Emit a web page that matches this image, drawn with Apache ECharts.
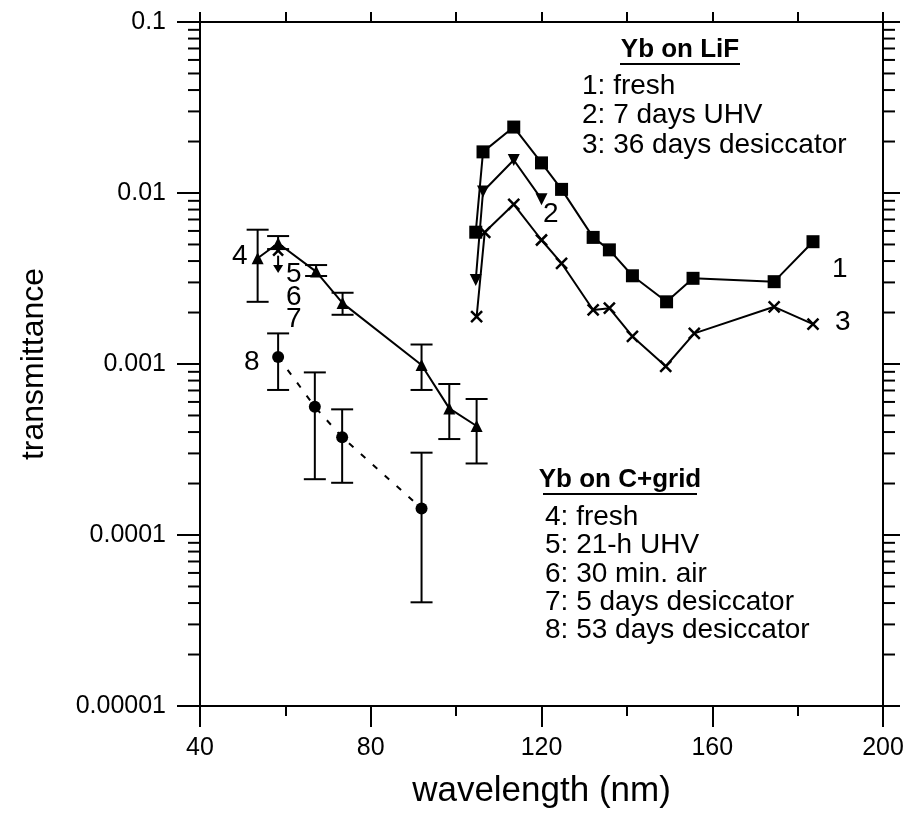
<!DOCTYPE html>
<html><head><meta charset="utf-8">
<script src="https://cdn.jsdelivr.net/npm/echarts@6/dist/echarts.min.js"></script>
<style>html,body{margin:0;padding:0;background:#fff}#c{width:909px;height:813px}</style>
</head><body><div id="c"></div>
<script>
// ---------- data ----------
const xTickLabels = [40, 80, 120, 160, 200];
const yTickLabels = ['0.00001', '0.0001', '0.001', '0.01', '0.1'];
const yMinorTicks = [2e-5,3e-5,4e-5,5e-5,6e-5,7e-5,8e-5,9e-5,
  2e-4,3e-4,4e-4,5e-4,6e-4,7e-4,8e-4,9e-4,
  2e-3,3e-3,4e-3,5e-3,6e-3,7e-3,8e-3,9e-3,
  2e-2,3e-2,4e-2,5e-2,6e-2,7e-2,8e-2,9e-2];

// Yb on LiF
const lif1X = [104.6, 106.3, 113.5, 120.0, 124.7, 132.1, 135.9, 141.3, 149.3, 155.5, 174.5, 183.6];
const lif1Y = [0.0059, 0.0174, 0.0243, 0.0150, 0.0105, 0.0055, 0.00465, 0.00328, 0.00231, 0.00317, 0.00303, 0.00519];
const lif2X = [104.6, 106.3, 113.5, 120.0];
const lif2Y = [0.0031, 0.0102, 0.0156, 0.0092];
const lif3X = [104.8, 106.7, 113.5, 120.0, 124.7, 132.1, 135.9, 141.3, 149.1, 155.8, 174.5, 183.6];
const lif3Y = [0.00189, 0.00589, 0.00859, 0.00531, 0.00388, 0.00207, 0.00212, 0.00145, 0.00097, 0.00151, 0.00216, 0.00171];

// Yb on C+grid
const cgX  = [53.5, 58.3, 67.2, 73.4, 91.9, 98.4, 104.8];
const cgY  = [0.00415, 0.00508, 0.00347, 0.00227, 0.000986, 0.00055, 0.000434];
const cgLo = [0.00231, 0.0047, 0.00327, 0.00194, 0.000705, 0.000364, 0.000262];
const cgHi = [0.0061, 0.0056, 0.00379, 0.00261, 0.0013, 0.000764, 0.000624];
const cg6X = [58.3];
const cg6Y = [0.0046];
const cg5Arrow = [58.3, 0.0043, 0.0034];   // x, from, to (upper limit)
const cg8X  = [58.3, 66.9, 73.3, 91.9];
const cg8Y  = [0.0011, 0.000562, 0.000373, 0.000143];
const cg8Lo = [0.000705, 0.000212, 0.000202, 0.0000404];
const cg8Hi = [0.00151, 0.000893, 0.000543, 0.000303];

// ---------- helpers ----------
const FONT = '"Liberation Sans", Arial, sans-serif';
const zip = (a, b) => a.map((v, i) => [v, b[i]]);
const zip3 = (a, b, c) => a.map((v, i) => [v, b[i], c[i]]);
const LS = {stroke: '#000', lineWidth: 2};

function errRender(params, api) {
  const x = api.value(0), lo = api.value(1), hi = api.value(2);
  const p1 = api.coord([x, hi]), p2 = api.coord([x, lo]);
  const w = 11;
  return {type: 'group', children: [
    {type: 'line', shape: {x1: p1[0], y1: p1[1], x2: p2[0], y2: p2[1]}, style: LS},
    {type: 'line', shape: {x1: p1[0]-w, y1: p1[1], x2: p1[0]+w, y2: p1[1]}, style: LS},
    {type: 'line', shape: {x1: p2[0]-w, y1: p2[1], x2: p2[0]+w, y2: p2[1]}, style: LS}
  ]};
}
function minorRender(params, api) {
  const v = api.value(1);
  const pl = api.coord([40, v]), pr = api.coord([200, v]);
  return {type: 'group', children: [
    {type: 'line', shape: {x1: pl[0]-12, y1: pl[1], x2: pl[0], y2: pl[1]}, style: LS},
    {type: 'line', shape: {x1: pr[0], y1: pr[1], x2: pr[0]+12, y2: pr[1]}, style: LS}
  ]};
}
function arrowRender(params, api) {
  const x = api.value(0);
  const a = api.coord([x, api.value(1)]), b = api.coord([x, api.value(2)]);
  return {type: 'group', children: [
    {type: 'line', shape: {x1: a[0], y1: a[1], x2: b[0], y2: b[1]-6}, style: LS},
    {type: 'polygon', shape: {points: [[b[0]-5, b[1]-8], [b[0]+5, b[1]-8], [b[0], b[1]]]}, style: {fill: '#000'}}
  ]};
}
const xSym = 'path://M0,0L10,10M10,0L0,10';

const chart = echarts.init(document.getElementById('c'), null, {renderer: 'canvas'});
const axisLabelY = v => yTickLabels[Math.round(Math.log10(v)) + 5];

chart.setOption({
  animation: false,
  backgroundColor: '#fff',
  textStyle: {fontFamily: FONT},
  grid: {left: 200, right: 26, top: 22, bottom: 107, show: false, containLabel: false, outerBoundsMode: 'none'},
  xAxis: [
    {type: 'value', min: 40, max: 200, interval: 40, position: 'bottom',
     axisLine: {show: true, onZero: false, lineStyle: {color: '#000', width: 2}},
     axisTick: {show: true, inside: false, length: 21, lineStyle: {color: '#000', width: 2}},
     minorTick: {show: true, splitNumber: 2, length: 10, lineStyle: {color: '#000', width: 2}},
     axisLabel: {color: '#000', fontSize: 25, fontFamily: FONT, margin: 30,
       formatter: v => xTickLabels.includes(v) ? String(v) : ''},
     splitLine: {show: false},
     name: 'wavelength (nm)', nameLocation: 'middle', nameGap: 68,
     nameTextStyle: {color: '#000', fontSize: 35, fontFamily: FONT}},
    {type: 'value', min: 40, max: 200, interval: 20, position: 'top',
     axisLine: {show: true, onZero: false, lineStyle: {color: '#000', width: 2}},
     axisTick: {show: true, inside: false, length: 10, lineStyle: {color: '#000', width: 2}},
     axisLabel: {show: false}, splitLine: {show: false}}
  ],
  yAxis: [
    {type: 'log', logBase: 10, min: 1e-5, max: 0.1, position: 'left',
     axisLine: {show: true, onZero: false, lineStyle: {color: '#000', width: 2}},
     axisTick: {show: true, inside: false, length: 23, lineStyle: {color: '#000', width: 2}},
     axisLabel: {color: '#000', fontSize: 25, fontFamily: FONT, margin: 34, formatter: axisLabelY},
     splitLine: {show: false},
     name: 'transmittance', nameLocation: 'middle', nameGap: 150, nameRotate: 90,
     nameTextStyle: {color: '#000', fontSize: 32, fontFamily: FONT}},
    {type: 'log', logBase: 10, min: 1e-5, max: 0.1, position: 'right',
     axisLine: {show: true, onZero: false, lineStyle: {color: '#000', width: 2}},
     axisTick: {show: true, inside: false, length: 17, lineStyle: {color: '#000', width: 2}},
     axisLabel: {show: false}, splitLine: {show: false}}
  ],
  series: [
    {type: 'custom', name: 'minorTicks', clip: false, silent: true, renderItem: minorRender,
     data: yMinorTicks.map(v => [40, v]), encode: {x: 0, y: 1}, z: 1},
    // LiF
    {type: 'line', name: '1', data: zip(lif1X, lif1Y), symbol: 'rect', symbolSize: 13,
     lineStyle: {color: '#000', width: 2}, itemStyle: {color: '#000'}, z: 5},
    {type: 'line', name: '2', data: zip(lif2X, lif2Y), symbol: 'triangle', symbolRotate: 180, symbolSize: 12,
     lineStyle: {color: '#000', width: 2}, itemStyle: {color: '#000'}, z: 4},
    {type: 'line', name: '3', data: zip(lif3X, lif3Y), symbol: xSym, symbolSize: 11,
     lineStyle: {color: '#000', width: 2}, itemStyle: {color: '#000', borderColor: '#000', borderWidth: 2.5}, z: 4},
    // C+grid
    {type: 'custom', name: 'err4', renderItem: errRender, data: zip3(cgX, cgLo, cgHi), encode: {x: 0, y: [1, 2]}, z: 3},
    {type: 'line', name: '4', data: zip(cgX, cgY), symbol: 'triangle', symbolSize: 12,
     lineStyle: {color: '#000', width: 2}, itemStyle: {color: '#000'}, z: 4},
    {type: 'line', name: '6', data: zip(cg6X, cg6Y), symbol: xSym, symbolSize: 10,
     itemStyle: {color: '#000', borderColor: '#000', borderWidth: 2.5}, z: 4},
    {type: 'custom', name: '5', renderItem: arrowRender, data: [cg5Arrow], encode: {x: 0, y: [1, 2]}, z: 4},
    {type: 'custom', name: 'err8', renderItem: errRender, data: zip3(cg8X, cg8Lo, cg8Hi), encode: {x: 0, y: [1, 2]}, z: 3},
    {type: 'line', name: '8', data: zip(cg8X, cg8Y), symbol: 'circle', symbolSize: 12,
     lineStyle: {color: '#000', width: 2, type: [6, 10]}, itemStyle: {color: '#000'}, z: 4}
  ],
  graphic: [
    {type: 'text', x: 680, y: 50, style: {text: 'Yb on LiF', font: 'bold 26px ' + FONT, fill: '#000', align: 'center', verticalAlign: 'middle'}},
    {type: 'line', shape: {x1: 620, y1: 64, x2: 740, y2: 64}, style: {stroke: '#000', lineWidth: 2}},
    {type: 'text', x: 582, y: 86, style: {text: '1: fresh', font: '28px ' + FONT, fill: '#000', verticalAlign: 'middle'}},
    {type: 'text', x: 582, y: 115, style: {text: '2: 7 days UHV', font: '28px ' + FONT, fill: '#000', verticalAlign: 'middle'}},
    {type: 'text', x: 582, y: 145, style: {text: '3: 36 days desiccator', font: '28px ' + FONT, fill: '#000', verticalAlign: 'middle'}},

    {type: 'text', x: 620, y: 480, style: {text: 'Yb on C+grid', font: 'bold 26px ' + FONT, fill: '#000', align: 'center', verticalAlign: 'middle'}},
    {type: 'line', shape: {x1: 543, y1: 494, x2: 697, y2: 494}, style: {stroke: '#000', lineWidth: 2}},
    {type: 'text', x: 545, y: 517, style: {text: '4: fresh', font: '28px ' + FONT, fill: '#000', verticalAlign: 'middle'}},
    {type: 'text', x: 545, y: 545, style: {text: '5: 21-h UHV', font: '28px ' + FONT, fill: '#000', verticalAlign: 'middle'}},
    {type: 'text', x: 545, y: 574, style: {text: '6: 30 min. air', font: '28px ' + FONT, fill: '#000', verticalAlign: 'middle'}},
    {type: 'text', x: 545, y: 602, style: {text: '7: 5 days desiccator', font: '28px ' + FONT, fill: '#000', verticalAlign: 'middle'}},
    {type: 'text', x: 545, y: 630, style: {text: '8: 53 days desiccator', font: '28px ' + FONT, fill: '#000', verticalAlign: 'middle'}},

    {type: 'text', x: 832, y: 269, style: {text: '1', font: '28px ' + FONT, fill: '#000', verticalAlign: 'middle'}},
    {type: 'text', x: 835, y: 322, style: {text: '3', font: '28px ' + FONT, fill: '#000', verticalAlign: 'middle'}},
    {type: 'text', x: 543, y: 214, style: {text: '2', font: '28px ' + FONT, fill: '#000', verticalAlign: 'middle'}},
    {type: 'text', x: 232, y: 256, style: {text: '4', font: '28px ' + FONT, fill: '#000', verticalAlign: 'middle'}},
    {type: 'text', x: 286, y: 274, style: {text: '5', font: '28px ' + FONT, fill: '#000', verticalAlign: 'middle'}},
    {type: 'text', x: 286, y: 297, style: {text: '6', font: '28px ' + FONT, fill: '#000', verticalAlign: 'middle'}},
    {type: 'text', x: 286, y: 319, style: {text: '7', font: '28px ' + FONT, fill: '#000', verticalAlign: 'middle'}},
    {type: 'text', x: 244, y: 362, style: {text: '8', font: '28px ' + FONT, fill: '#000', verticalAlign: 'middle'}}
  ]
});
</script></body></html>
